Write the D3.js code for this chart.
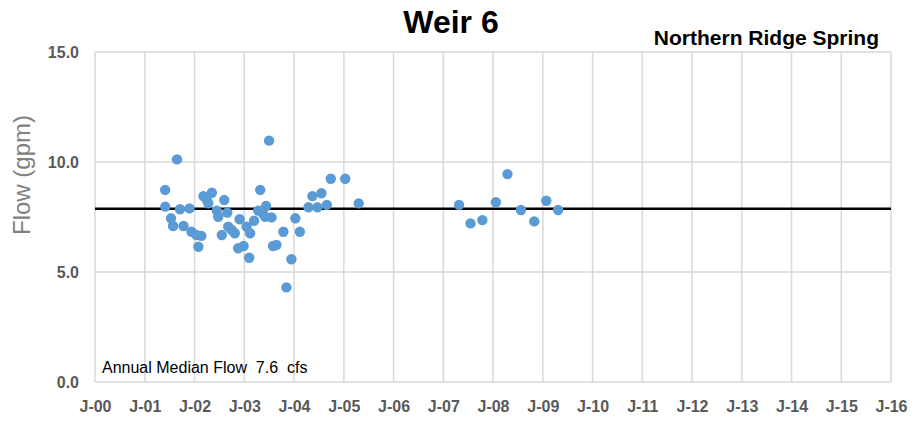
<!DOCTYPE html>
<html>
<head>
<meta charset="utf-8">
<script src="https://cdn.jsdelivr.net/npm/d3@7"></script>
<style>
  html, body { margin: 0; padding: 0; background: #fff; }
  svg { display: block; font-family: "Liberation Sans", Arial, sans-serif; }
</style>
</head>
<body>
<svg id="chart" width="916" height="424"></svg>
<script>
// Sample dates and measured flow (gpm)
const sampleDates = [
  "2001-05-30","2001-05-31","2001-07-12","2001-07-27","2001-08-25","2001-09-16","2001-10-12","2001-11-25","2001-12-09",
  "2002-01-15","2002-01-29","2002-02-20","2002-03-07","2002-04-01","2002-04-12","2002-05-08","2002-06-13","2002-06-24",
  "2002-07-20","2002-08-07","2002-08-29","2002-09-05","2002-10-01","2002-10-23","2002-11-17","2002-11-28","2002-12-27",
  "2003-01-18","2003-02-06","2003-02-13","2003-03-14","2003-04-13","2003-04-28","2003-05-16","2003-06-03","2003-06-10",
  "2003-07-02","2003-07-20","2003-07-31","2003-08-25","2003-10-15","2003-11-06","2003-12-13",
  "2004-01-11","2004-02-13","2004-04-16","2004-05-15","2004-06-21","2004-07-20","2004-08-29","2004-09-27",
  "2005-01-11","2005-04-20",
  "2007-04-27","2007-07-20","2007-10-15","2008-01-22","2008-04-16","2008-07-24","2008-10-30","2009-01-26","2009-04-23"
];
const flowValues = [
  8.73, 7.97, 7.44, 7.09, 10.12, 7.85, 7.09, 7.89, 6.83,
  6.68, 6.15, 6.64, 8.45, 8.27, 8.12, 8.60, 7.79, 7.51,
  6.68, 8.27, 7.70, 7.06, 6.91, 6.76, 6.08, 7.40, 6.18,
  7.06, 5.65, 6.76, 7.33, 7.79, 8.73, 7.67, 7.51, 8.00,
  10.97, 7.48, 6.18, 6.23, 6.83, 4.30, 5.58,
  7.44, 6.83, 7.94, 8.45, 7.94, 8.58, 8.05, 9.24,
  9.24, 8.12,
  8.05, 7.21, 7.36, 8.17, 9.45, 7.82, 7.30, 8.24, 7.82
];
const medianFlow = 7.88;
const xTickYears = [2000,2001,2002,2003,2004,2005,2006,2007,2008,2009,2010,2011,2012,2013,2014,2015,2016];
const xTickLabels = ["J-00","J-01","J-02","J-03","J-04","J-05","J-06","J-07","J-08","J-09","J-10","J-11","J-12","J-13","J-14","J-15","J-16"];
const yTicks = [0, 5, 10, 15];

const svg = d3.select("#chart");
const plot = { left: 95, right: 891, top: 52, bottom: 382 };

const parse = d3.timeParse("%Y-%m-%d");
const x = d3.scaleTime()
  .domain([new Date(2000, 0, 1), new Date(2016, 0, 1)])
  .range([plot.left, plot.right]);
const y = d3.scaleLinear().domain([0, 15]).range([plot.bottom, plot.top]);

const gridColor = "#d9d9d9";
const tickDates = xTickYears.map(yr => new Date(yr, 0, 1));

// Vertical gridlines (one per January)
svg.append("g")
  .selectAll("line")
  .data(tickDates)
  .join("line")
  .attr("x1", d => x(d)).attr("x2", d => x(d))
  .attr("y1", plot.top).attr("y2", plot.bottom)
  .attr("stroke", gridColor).attr("stroke-width", 1.5);

// Horizontal gridlines
svg.append("g")
  .selectAll("line")
  .data(yTicks)
  .join("line")
  .attr("x1", plot.left).attr("x2", plot.right)
  .attr("y1", d => y(d)).attr("y2", d => y(d))
  .attr("stroke", gridColor).attr("stroke-width", 1.5);

// Y axis labels
const yAxis = d3.axisLeft(y).tickValues(yTicks).tickFormat(d3.format(".1f")).tickSize(0).tickPadding(16);
svg.append("g")
  .attr("transform", `translate(${plot.left},0)`)
  .call(yAxis)
  .call(g => g.select(".domain").remove())
  .selectAll("text")
  .attr("font-family", "Liberation Sans, Arial, sans-serif")
  .attr("font-size", 16)
  .attr("font-weight", "bold")
  .attr("fill", "#595959");

// X axis labels
const xAxis = d3.axisBottom(x).tickValues(tickDates)
  .tickFormat((d, i) => xTickLabels[i]).tickSize(0).tickPadding(19);
svg.append("g")
  .attr("transform", `translate(0,${plot.bottom})`)
  .call(xAxis)
  .call(g => g.select(".domain").remove())
  .selectAll("text")
  .attr("font-family", "Liberation Sans, Arial, sans-serif")
  .attr("font-size", 16)
  .attr("font-weight", "bold")
  .attr("fill", "#595959");

// Median line
svg.append("line")
  .attr("x1", plot.left).attr("x2", plot.right)
  .attr("y1", y(medianFlow)).attr("y2", y(medianFlow))
  .attr("stroke", "#000").attr("stroke-width", 2.5);

// Measurements
svg.append("g")
  .selectAll("circle")
  .data(sampleDates.map((d, i) => ({ date: parse(d), value: flowValues[i] })))
  .join("circle")
  .attr("cx", d => x(d.date))
  .attr("cy", d => y(d.value))
  .attr("r", 5.2)
  .attr("fill", "#5b9bd5");

// Y axis title
svg.append("text")
  .attr("transform", `translate(30,${(plot.top + plot.bottom) / 2 - 42}) rotate(-90)`)
  .attr("text-anchor", "middle")
  .attr("font-size", 24)
  .attr("fill", "#808080")
  .text("Flow (gpm)");

// Titles
svg.append("text")
  .attr("x", 451).attr("y", 33)
  .attr("text-anchor", "middle")
  .attr("font-size", 32)
  .attr("font-weight", "bold")
  .attr("fill", "#000")
  .text("Weir 6");

svg.append("text")
  .attr("x", 879).attr("y", 45)
  .attr("text-anchor", "end")
  .attr("font-size", 21)
  .attr("font-weight", "bold")
  .attr("fill", "#000")
  .text("Northern Ridge Spring");

// Note inside plot
svg.append("text")
  .attr("x", 102).attr("y", 373)
  .attr("font-size", 16)
  .attr("fill", "#000")
  .style("white-space", "pre")
  .text("Annual Median Flow  7.6  cfs");
</script>
</body>
</html>
